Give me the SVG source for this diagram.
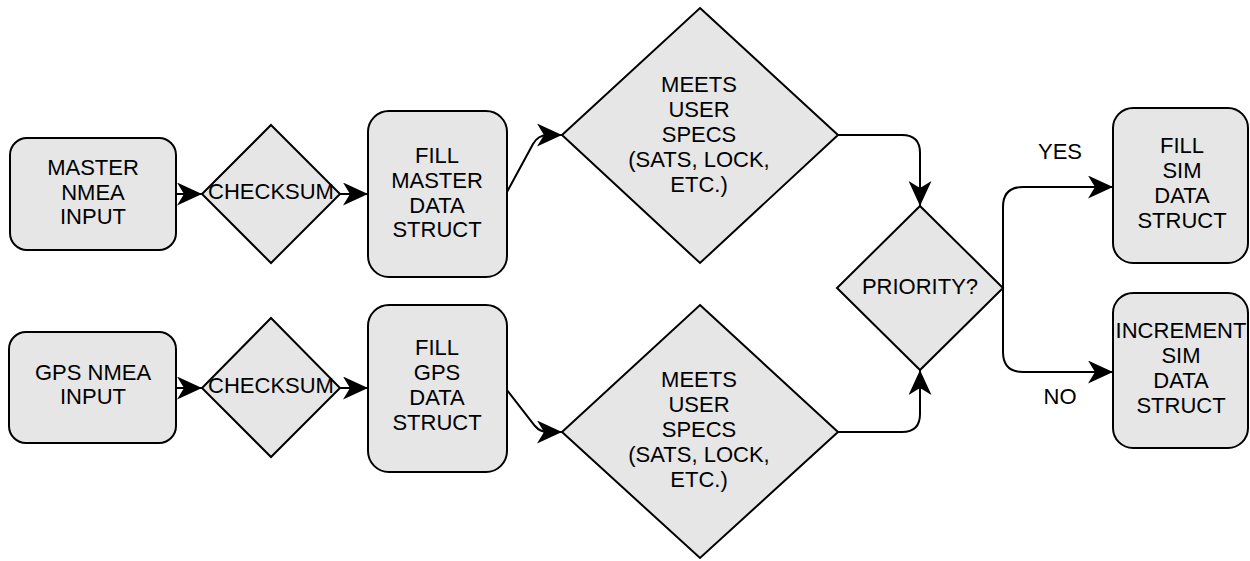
<svg xmlns="http://www.w3.org/2000/svg" width="1250" height="561" viewBox="0 0 1250 561">
<style>
.n{fill:#e6e6e6;stroke:#000;stroke-width:2}
.c{fill:none;stroke:#000;stroke-width:2}
text{font-family:"Liberation Sans",Arial,sans-serif;font-size:22px;fill:#000;text-anchor:middle}
</style>
<defs>
<marker id="ah" markerUnits="userSpaceOnUse" viewBox="0 0 25 23" refX="25" refY="11.5" markerWidth="25" markerHeight="23" orient="auto">
<path d="M0,0 L25,11.5 L0,23 L7,11.5 Z" fill="#000"/>
</marker>
</defs>
<rect width="1250" height="561" fill="#fff"/>
<g id="connectors">
<path class="c" marker-end="url(#ah)" d="M176,194 L202,194"/>
<path class="c" marker-end="url(#ah)" d="M340,194 L368,194"/>
<path class="c" marker-end="url(#ah)" d="M507,192 L533,144 Q538,135 548,135 L562,135"/>
<path class="c" marker-end="url(#ah)" d="M176,388 L202,388"/>
<path class="c" marker-end="url(#ah)" d="M340,388 L368,388"/>
<path class="c" marker-end="url(#ah)" d="M507,390 L535,426 Q540,432 548,432 L562,432"/>
<path class="c" marker-end="url(#ah)" d="M838,135 L902,135 Q920,135 920,153 L920,206"/>
<path class="c" marker-end="url(#ah)" d="M838,432 L902,432 Q920,432 920,414 L920,370"/>
<path class="c" marker-end="url(#ah)" d="M1003,288 L1003,207 Q1003,187 1023,187 L1113,187"/>
<path class="c" marker-end="url(#ah)" d="M1003,288 L1003,352 Q1003,372 1023,372 L1113,372"/>
<text x="1060" y="159">YES</text>
<text x="1060" y="404">NO</text>
</g>
<g id="master-input">
<rect class="n" x="10" y="138" width="166" height="112" rx="17"/>
<text x="93" y="175">MASTER</text>
<text x="93" y="200">NMEA</text>
<text x="93" y="224">INPUT</text>
</g>
<g id="checksum-master">
<polygon class="n" points="271,125 340,194 271,263 202,194"/>
<text x="271" y="199">CHECKSUM</text>
</g>
<g id="fill-master">
<rect class="n" x="368" y="111" width="139" height="166" rx="21"/>
<text x="437" y="163">FILL</text>
<text x="437" y="188">MASTER</text>
<text x="437" y="213">DATA</text>
<text x="437" y="237">STRUCT</text>
</g>
<g id="meets-master">
<polygon class="n" points="700,8 838,135 700,263 562,135"/>
<text x="699" y="92">MEETS</text>
<text x="699" y="117">USER</text>
<text x="699" y="142">SPECS</text>
<text x="699" y="167">(SATS, LOCK,</text>
<text x="699" y="192">ETC.)</text>
</g>
<g id="gps-input">
<rect class="n" x="9" y="332" width="167" height="111" rx="17"/>
<text x="93" y="380">GPS NMEA</text>
<text x="93" y="404">INPUT</text>
</g>
<g id="checksum-gps">
<polygon class="n" points="271,318 340,388 271,457 202,388"/>
<text x="271" y="393">CHECKSUM</text>
</g>
<g id="fill-gps">
<rect class="n" x="368" y="305" width="139" height="167" rx="21"/>
<text x="437" y="355">FILL</text>
<text x="437" y="380">GPS</text>
<text x="437" y="405">DATA</text>
<text x="437" y="430">STRUCT</text>
</g>
<g id="meets-gps">
<polygon class="n" points="700,305 838,432 700,558 562,432"/>
<text x="699" y="387">MEETS</text>
<text x="699" y="412">USER</text>
<text x="699" y="437">SPECS</text>
<text x="699" y="462">(SATS, LOCK,</text>
<text x="699" y="487">ETC.)</text>
</g>
<g id="priority">
<polygon class="n" points="920,206 1003,288 920,370 837,288"/>
<text x="920" y="294">PRIORITY?</text>
</g>
<g id="fill-sim">
<rect class="n" x="1113" y="108" width="135" height="155" rx="20"/>
<text x="1182" y="153">FILL</text>
<text x="1182" y="178">SIM</text>
<text x="1182" y="203">DATA</text>
<text x="1182" y="228">STRUCT</text>
</g>
<g id="increment-sim">
<rect class="n" x="1113" y="293" width="135" height="155" rx="20"/>
<text x="1181" y="338">INCREMENT</text>
<text x="1181" y="363">SIM</text>
<text x="1181" y="388">DATA</text>
<text x="1181" y="413">STRUCT</text>
</g>
</svg>
